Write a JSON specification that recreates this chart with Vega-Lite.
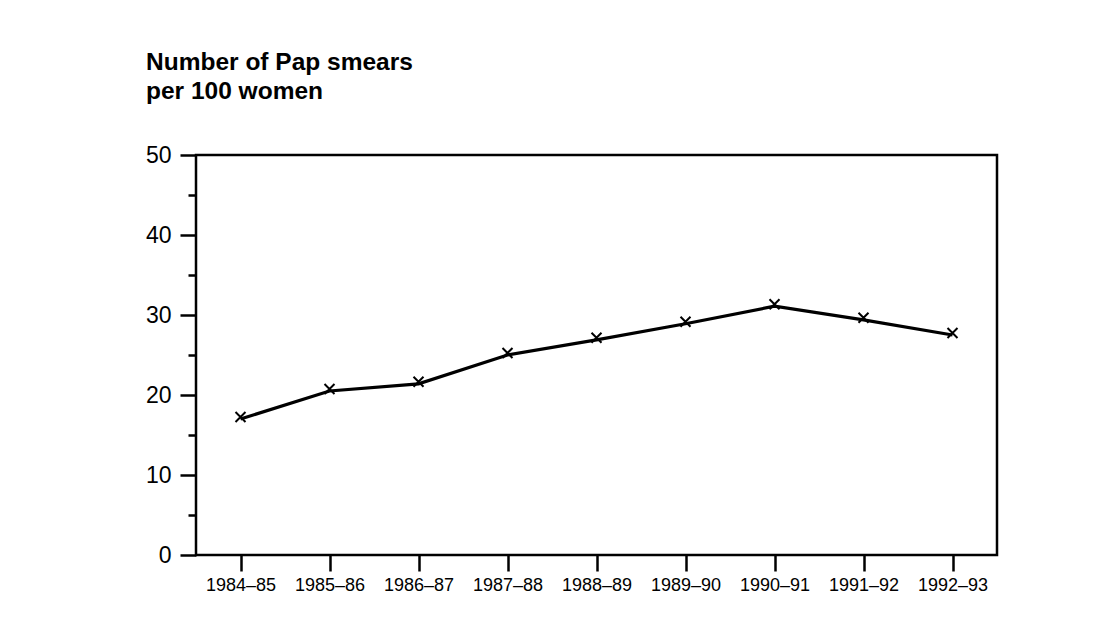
{
  "$schema": "https://vega.github.io/schema/vega-lite/v6.json",
  "width": 801,
  "height": 400,
  "autosize": {"type": "none"},
  "padding": {"left": 196, "top": 155, "right": 120, "bottom": 66},
  "background": "white",
  "title": {
    "text": ["Number of Pap smears", "per 100 women"],
    "anchor": "start",
    "frame": "group",
    "dx": -50,
    "offset": 40,
    "font": "Liberation Sans",
    "fontSize": 24.5,
    "fontWeight": "bold",
    "lineHeight": 29,
    "color": "black"
  },
  "config": {
    "view": {"stroke": "black", "strokeWidth": 2.5},
    "axis": {
      "labelFont": "Liberation Sans",
      "labelColor": "black",
      "tickColor": "black",
      "tickWidth": 2.5,
      "domain": false,
      "grid": false,
      "title": null
    }
  },
  "data": {
    "values": [
      {"year": "1984–85", "smears": 17.0},
      {"year": "1985–86", "smears": 20.5},
      {"year": "1986–87", "smears": 21.4},
      {"year": "1987–88", "smears": 25.0},
      {"year": "1988–89", "smears": 26.9},
      {"year": "1989–90", "smears": 28.9},
      {"year": "1990–91", "smears": 31.1},
      {"year": "1991–92", "smears": 29.4},
      {"year": "1992–93", "smears": 27.5}
    ]
  },
  "encoding": {
    "x": {
      "field": "year",
      "type": "ordinal",
      "sort": null,
      "scale": {"type": "point", "padding": 0.5},
      "axis": {
        "labelAngle": 0,
        "labelFontSize": 18,
        "tickSize": 16,
        "labelPadding": 5
      }
    },
    "y": {
      "field": "smears",
      "type": "quantitative",
      "scale": {"domain": [0, 50], "nice": false, "zero": true},
      "axis": {
        "values": [0, 5, 10, 15, 20, 25, 30, 35, 40, 45, 50],
        "labelExpr": "datum.value % 10 === 0 ? datum.label : ''",
        "tickSize": {"condition": {"test": "datum.value % 10 === 0", "value": 16}, "value": 8},
        "labelFontSize": 23,
        "labelPadding": 9
      }
    }
  },
  "layer": [
    {
      "mark": {"type": "line", "color": "black", "strokeWidth": 3.2}
    },
    {
      "mark": {
        "type": "point",
        "shape": "M-1,-1L1,1M-1,1L1,-1",
        "filled": false,
        "color": "black",
        "strokeWidth": 2,
        "size": 100,
        "opacity": 1,
        "yOffset": -2
      }
    }
  ]
}
